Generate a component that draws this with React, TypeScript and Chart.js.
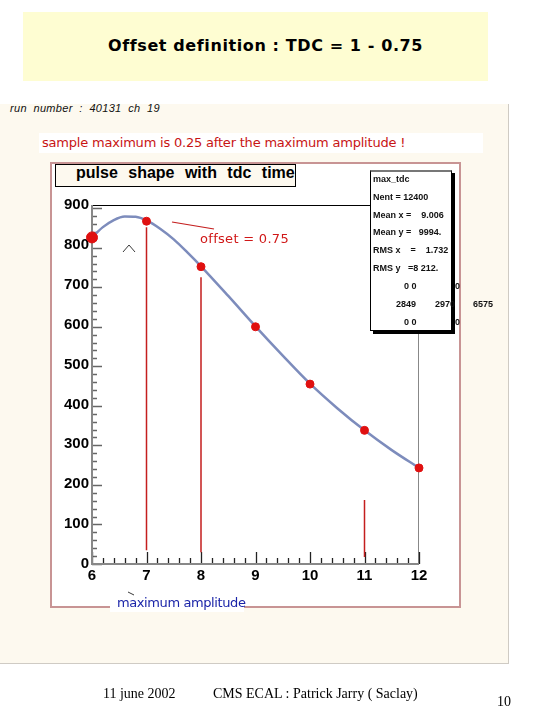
import React, { useEffect, useRef } from "react";
import { Chart, registerables } from "chart.js";

Chart.register(...registerables);

// ---- data ----
const sampleX = [6, 7, 8, 9, 10, 11, 12];
const sampleY = [826, 867, 752, 600, 455, 338, 243];
const curveX = [6.0, 6.2, 6.4, 6.6, 6.8, 7.0, 7.25, 7.5, 7.75, 8.0, 8.5, 9.0, 9.5, 10.0, 10.5, 11.0, 11.5, 12.0];
const curveY = [826, 852, 870, 879, 878, 869, 848, 821, 788, 753, 678, 601, 527, 456, 394, 338, 288, 243];
const markerX = [7, 8, 11];
const markerTop = [852, 725, 162];
const markerBottom = [35, 30, 18];
const xTickLabels = ["6", "7", "8", "9", "10", "11", "12"];
const yTickLabels = ["0", "100", "200", "300", "400", "500", "600", "700", "800", "900"];
const statsLines = ["max_tdc", "Nent = 12400", "Mean x =    9.006", "Mean y =   9994.", "RMS x    =    1.732", "RMS y   =8 212."];

const tickPlugin = {
  id: "rootTicks",
  beforeDatasetsDraw(chart: any) {
    const { ctx, chartArea, scales } = chart;
    const xs = scales.x;
    const ys = scales.y;
    ctx.save();
    // frame
    ctx.strokeStyle = "#000";
    ctx.lineWidth = 1;
    ctx.beginPath();
    ctx.moveTo(chartArea.left, chartArea.top + 0.5);
    ctx.lineTo(chartArea.right, chartArea.top + 0.5);
    ctx.stroke();
    ctx.strokeStyle = "#888";
    ctx.beginPath();
    ctx.moveTo(chartArea.right - 0.5, chartArea.top);
    ctx.lineTo(chartArea.right - 0.5, chartArea.bottom);
    ctx.stroke();
    // y ticks
    ctx.strokeStyle = "#666";
    ctx.lineWidth = 1.5;
    for (let v = 0; v <= 900; v += 20) {
      const y = Math.round(ys.getPixelForValue(v)) + 0.5;
      const len = v % 100 === 0 ? 10 : 5;
      ctx.beginPath();
      ctx.moveTo(chartArea.left, y);
      ctx.lineTo(chartArea.left + len, y);
      ctx.stroke();
    }
    // x ticks
    ctx.strokeStyle = "#222";
    ctx.lineWidth = 1.3;
    for (let i = 0; i <= 30; i++) {
      const v = 6 + i * 0.2;
      const x = Math.round(xs.getPixelForValue(v)) + 0.5;
      const len = i % 5 === 0 ? 12 : 6;
      ctx.beginPath();
      ctx.moveTo(x, chartArea.bottom);
      ctx.lineTo(x, chartArea.bottom - len);
      ctx.stroke();
    }
    // axes
    ctx.strokeStyle = "#888";
    ctx.lineWidth = 2;
    ctx.beginPath();
    ctx.moveTo(chartArea.left, chartArea.top);
    ctx.lineTo(chartArea.left, chartArea.bottom);
    ctx.lineTo(chartArea.right, chartArea.bottom);
    ctx.stroke();
    ctx.restore();
  },
};

function PulseChart() {
  const ref = useRef<HTMLCanvasElement>(null);
  useEffect(() => {
    const canvas = ref.current;
    if (!canvas) return;
    const datasets: any[] = [];
    markerX.forEach((mx, i) => {
      datasets.push({
        type: "line",
        data: [
          { x: mx, y: markerTop[i] },
          { x: mx, y: markerBottom[i] },
        ],
        borderColor: "#c41e1e",
        borderWidth: 1.5,
        pointRadius: 0,
        order: 3,
      });
    });
    datasets.push({
      type: "line",
      data: curveX.map((x, i) => ({ x, y: curveY[i] })),
      borderColor: "#7d8cbc",
      borderWidth: 2.5,
      pointRadius: 0,
      cubicInterpolationMode: "monotone",
      order: 2,
    });
    datasets.push({
      type: "scatter",
      data: sampleX.map((x, i) => ({ x, y: sampleY[i] })),
      backgroundColor: "#e01010",
      borderColor: "#e01010",
      pointRadius: sampleX.map((x) => (x === 6 ? 5.5 : 4)),
      clip: false,
      order: 1,
    });
    const chart = new Chart(canvas, {
      type: "line",
      data: { datasets },
      plugins: [tickPlugin],
      options: {
        animation: false,
        responsive: false,
        devicePixelRatio: 1,
        layout: { padding: { left: 0, top: 43, right: 42, bottom: 0 } },
        plugins: { legend: { display: false }, tooltip: { enabled: false } },
        scales: {
          x: {
            type: "linear",
            min: 6,
            max: 12,
            grid: { display: false, drawTicks: false },
            border: { display: false },
            afterFit: (s: any) => {
              s.height = 44;
            },
            ticks: {
              stepSize: 1,
              includeBounds: false,
              padding: 3,
              color: "#000",
              font: { family: "Liberation Sans", weight: "bold", size: 15 },
              callback: (v: any) => xTickLabels[Math.round(Number(v) - 6)] ?? "",
            },
          },
          y: {
            type: "linear",
            min: 0,
            max: 908,
            grid: { display: false, drawTicks: false },
            border: { display: false },
            afterFit: (s: any) => {
              s.width = 42;
            },
            ticks: {
              stepSize: 100,
              includeBounds: false,
              padding: 3,
              color: "#000",
              font: { family: "Liberation Sans", weight: "bold", size: 15 },
              callback: (v: any) => yTickLabels[Math.round(Number(v) / 100)] ?? "",
            },
          },
        },
      },
    });
    return () => chart.destroy();
  }, []);
  return <canvas ref={ref} width={411} height={446} style={{ position: "absolute", left: 50, top: 162, width: 411, height: 446 }} />;
}

export default function App() {
  const abs = (o: any): React.CSSProperties => ({ position: "absolute", whiteSpace: "pre", ...o });
  const statFont = { fontFamily: "Liberation Sans", fontWeight: "bold", fontSize: 9, color: "#111" };
  return (
    <div style={{ position: "absolute", left: 0, top: 0, width: 540, height: 720, background: "#fff", overflow: "hidden" }}>
      {/* title */}
      <div style={abs({ left: 23, top: 12, width: 465, height: 69, background: "#fefdd2" })} />
      <div style={abs({ left: 23, top: 36, width: 485, textAlign: "center", fontFamily: "DejaVu Sans", fontWeight: "bold", fontSize: 16, letterSpacing: 0.6, color: "#000" })}>
        Offset definition : TDC = 1 - 0.75
      </div>
      {/* panel */}
      <div style={abs({ left: 0, top: 104, width: 508, height: 559, background: "#fdf9ef", borderRight: "1.5px solid #cfcbc4", borderBottom: "1.5px solid #cfcbc4" })} />
      <div style={abs({ left: 10, top: 102, fontFamily: "Liberation Sans", fontStyle: "italic", fontSize: 11, color: "#111", letterSpacing: 0.3 })}>
        {"run  number  :  40131  ch  19"}
      </div>
      <div style={abs({ left: 39, top: 133, width: 444, height: 20, background: "#fff" })} />
      <div style={abs({ left: 42, top: 135, fontFamily: "DejaVu Sans", fontSize: 13, color: "#c81414", letterSpacing: -0.2 })}>
        sample maximum is 0.25 after the maximum amplitude !
      </div>
      {/* plot frame */}
      <div style={abs({ left: 50, top: 162, width: 407, height: 442, background: "#fff", border: "2px solid #c89494" })} />
      <PulseChart />
      <div style={abs({ left: 55, top: 164, width: 239, height: 21, background: "#fdf9ef", border: "1.5px solid #000" })} />
      <div style={abs({ left: 76, top: 164, fontFamily: "Liberation Sans", fontWeight: "bold", fontSize: 16, color: "#000", wordSpacing: 6 })}>
        pulse shape with tdc time
      </div>
      {/* stats box */}
      <div style={abs({ left: 370, top: 170, width: 80, height: 158, background: "#fff", border: "1px solid #000", borderTop: "2px solid #777", boxShadow: "3px 3px 0 #000" })} />
      {statsLines.map((t, i) => (
        <div key={i} style={abs({ left: 373, top: 174 + i * 17.8, ...statFont })}>
          {t}
        </div>
      ))}
      <div style={abs({ left: 404, top: 281, ...statFont })}>0 0</div>
      <div style={abs({ left: 455, top: 281, ...statFont })}>0</div>
      <div style={abs({ left: 396, top: 299, ...statFont })}>2849</div>
      <div style={abs({ left: 435, top: 299, ...statFont })}>2970</div>
      <div style={abs({ left: 473, top: 299, ...statFont })}>6575</div>
      <div style={abs({ left: 404, top: 317, ...statFont })}>0 0</div>
      <div style={abs({ left: 455, top: 317, ...statFont })}>0</div>
      {/* annotations */}
      <svg width={540} height={720} style={{ position: "absolute", left: 0, top: 0, pointerEvents: "none" }}>
        <line x1={172} y1={222} x2={214} y2={229} stroke="#c41e1e" strokeWidth={1.2} />
        <polyline points="123,252 129,245 135,252" fill="none" stroke="#222" strokeWidth={0.9} />
        <line x1={128} y1={592} x2={134} y2={595} stroke="#222" strokeWidth={0.9} />
      </svg>
      <div style={abs({ left: 200, top: 231, fontFamily: "DejaVu Sans", fontSize: 13, color: "#d01818", letterSpacing: 0.3 })}>offset = 0.75</div>
      <div style={abs({ left: 110, top: 596, width: 134, height: 16, background: "#fff" })} />
      <div style={abs({ left: 117, top: 595, fontFamily: "DejaVu Sans", fontSize: 13, color: "#1a24a8", letterSpacing: -0.4 })}>maximum amplitude</div>
      {/* footer */}
      <div style={abs({ left: 103, top: 686, fontFamily: "Liberation Serif", fontSize: 14, color: "#000" })}>11 june 2002</div>
      <div style={abs({ left: 213, top: 686, fontFamily: "Liberation Serif", fontSize: 14, color: "#000" })}>CMS ECAL : Patrick Jarry ( Saclay)</div>
      <div style={abs({ left: 497, top: 694, fontFamily: "Liberation Serif", fontSize: 14, color: "#000" })}>10</div>
    </div>
  );
}
